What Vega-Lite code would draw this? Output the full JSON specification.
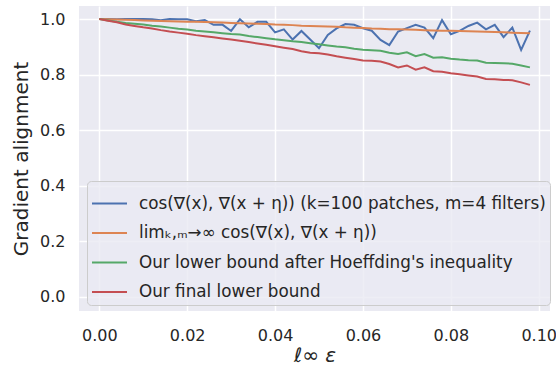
{
"$schema": "https://vega.github.io/schema/vega-lite/v6.json",
"width": 471, "height": 305,
"autosize": {"type": "none"},
"padding": {"left": 79, "top": 6, "right": 6, "bottom": 54},
"background": "white",
"config": {"view": {"fill": "#eaeaf2", "stroke": null}, "font": "DejaVu Sans"},
"data": {"values": [
{"eps":0.000,"s":"A","v":1.000},{"eps":0.002,"s":"A","v":1.000},{"eps":0.004,"s":"A","v":0.999},{"eps":0.006,"s":"A","v":1.000},{"eps":0.008,"s":"A","v":1.000},
{"eps":0.010,"s":"A","v":1.000},{"eps":0.012,"s":"A","v":0.999},{"eps":0.014,"s":"A","v":0.996},{"eps":0.016,"s":"A","v":1.000},{"eps":0.018,"s":"A","v":0.999},
{"eps":0.020,"s":"A","v":0.999},{"eps":0.022,"s":"A","v":0.992},{"eps":0.024,"s":"A","v":0.996},{"eps":0.026,"s":"A","v":0.979},{"eps":0.028,"s":"A","v":0.980},
{"eps":0.030,"s":"A","v":0.957},{"eps":0.032,"s":"A","v":0.999},{"eps":0.034,"s":"A","v":0.970},{"eps":0.036,"s":"A","v":0.990},{"eps":0.038,"s":"A","v":0.990},
{"eps":0.040,"s":"A","v":0.952},{"eps":0.042,"s":"A","v":0.963},{"eps":0.044,"s":"A","v":0.926},{"eps":0.046,"s":"A","v":0.957},{"eps":0.048,"s":"A","v":0.926},
{"eps":0.050,"s":"A","v":0.895},{"eps":0.052,"s":"A","v":0.943},{"eps":0.054,"s":"A","v":0.966},{"eps":0.056,"s":"A","v":0.982},{"eps":0.058,"s":"A","v":0.979},
{"eps":0.060,"s":"A","v":0.967},{"eps":0.062,"s":"A","v":0.958},{"eps":0.064,"s":"A","v":0.925},{"eps":0.066,"s":"A","v":0.906},{"eps":0.068,"s":"A","v":0.955},
{"eps":0.070,"s":"A","v":0.967},{"eps":0.072,"s":"A","v":0.979},{"eps":0.074,"s":"A","v":0.969},{"eps":0.076,"s":"A","v":0.931},{"eps":0.078,"s":"A","v":0.996},
{"eps":0.080,"s":"A","v":0.945},{"eps":0.082,"s":"A","v":0.957},{"eps":0.084,"s":"A","v":0.975},{"eps":0.086,"s":"A","v":0.987},{"eps":0.088,"s":"A","v":0.963},
{"eps":0.090,"s":"A","v":0.979},{"eps":0.092,"s":"A","v":0.935},{"eps":0.094,"s":"A","v":0.969},{"eps":0.096,"s":"A","v":0.889},{"eps":0.098,"s":"A","v":0.958},
{"eps":0.000,"s":"B","v":1.000},{"eps":0.002,"s":"B","v":0.999},{"eps":0.004,"s":"B","v":0.998},{"eps":0.006,"s":"B","v":0.997},{"eps":0.008,"s":"B","v":0.996},
{"eps":0.010,"s":"B","v":0.995},{"eps":0.012,"s":"B","v":0.994},{"eps":0.014,"s":"B","v":0.993},{"eps":0.016,"s":"B","v":0.992},{"eps":0.018,"s":"B","v":0.991},
{"eps":0.020,"s":"B","v":0.990},{"eps":0.022,"s":"B","v":0.990},{"eps":0.024,"s":"B","v":0.989},{"eps":0.026,"s":"B","v":0.988},{"eps":0.028,"s":"B","v":0.987},
{"eps":0.030,"s":"B","v":0.986},{"eps":0.032,"s":"B","v":0.985},{"eps":0.034,"s":"B","v":0.984},{"eps":0.036,"s":"B","v":0.983},{"eps":0.038,"s":"B","v":0.982},
{"eps":0.040,"s":"B","v":0.980},{"eps":0.042,"s":"B","v":0.979},{"eps":0.044,"s":"B","v":0.978},{"eps":0.046,"s":"B","v":0.976},{"eps":0.048,"s":"B","v":0.975},
{"eps":0.050,"s":"B","v":0.974},{"eps":0.052,"s":"B","v":0.973},{"eps":0.054,"s":"B","v":0.972},{"eps":0.056,"s":"B","v":0.970},{"eps":0.058,"s":"B","v":0.969},
{"eps":0.060,"s":"B","v":0.968},{"eps":0.062,"s":"B","v":0.966},{"eps":0.064,"s":"B","v":0.965},{"eps":0.066,"s":"B","v":0.963},{"eps":0.068,"s":"B","v":0.963},
{"eps":0.070,"s":"B","v":0.962},{"eps":0.072,"s":"B","v":0.961},{"eps":0.074,"s":"B","v":0.960},{"eps":0.076,"s":"B","v":0.959},{"eps":0.078,"s":"B","v":0.958},
{"eps":0.080,"s":"B","v":0.958},{"eps":0.082,"s":"B","v":0.957},{"eps":0.084,"s":"B","v":0.956},{"eps":0.086,"s":"B","v":0.955},{"eps":0.088,"s":"B","v":0.954},
{"eps":0.090,"s":"B","v":0.953},{"eps":0.092,"s":"B","v":0.952},{"eps":0.094,"s":"B","v":0.951},{"eps":0.096,"s":"B","v":0.950},{"eps":0.098,"s":"B","v":0.949},
{"eps":0.000,"s":"C","v":1.000},{"eps":0.002,"s":"C","v":0.995},{"eps":0.004,"s":"C","v":0.990},{"eps":0.006,"s":"C","v":0.986},{"eps":0.008,"s":"C","v":0.983},
{"eps":0.010,"s":"C","v":0.980},{"eps":0.012,"s":"C","v":0.976},{"eps":0.014,"s":"C","v":0.973},{"eps":0.016,"s":"C","v":0.969},{"eps":0.018,"s":"C","v":0.965},
{"eps":0.020,"s":"C","v":0.962},{"eps":0.022,"s":"C","v":0.958},{"eps":0.024,"s":"C","v":0.955},{"eps":0.026,"s":"C","v":0.952},{"eps":0.028,"s":"C","v":0.949},
{"eps":0.030,"s":"C","v":0.946},{"eps":0.032,"s":"C","v":0.944},{"eps":0.034,"s":"C","v":0.939},{"eps":0.036,"s":"C","v":0.935},{"eps":0.038,"s":"C","v":0.931},
{"eps":0.040,"s":"C","v":0.927},{"eps":0.042,"s":"C","v":0.924},{"eps":0.044,"s":"C","v":0.920},{"eps":0.046,"s":"C","v":0.917},{"eps":0.048,"s":"C","v":0.913},
{"eps":0.050,"s":"C","v":0.909},{"eps":0.052,"s":"C","v":0.905},{"eps":0.054,"s":"C","v":0.901},{"eps":0.056,"s":"C","v":0.898},{"eps":0.058,"s":"C","v":0.893},
{"eps":0.060,"s":"C","v":0.889},{"eps":0.062,"s":"C","v":0.888},{"eps":0.064,"s":"C","v":0.886},{"eps":0.066,"s":"C","v":0.879},{"eps":0.068,"s":"C","v":0.874},
{"eps":0.070,"s":"C","v":0.880},{"eps":0.072,"s":"C","v":0.866},{"eps":0.074,"s":"C","v":0.874},{"eps":0.076,"s":"C","v":0.861},{"eps":0.078,"s":"C","v":0.862},
{"eps":0.080,"s":"C","v":0.857},{"eps":0.082,"s":"C","v":0.854},{"eps":0.084,"s":"C","v":0.852},{"eps":0.086,"s":"C","v":0.851},{"eps":0.088,"s":"C","v":0.843},
{"eps":0.090,"s":"C","v":0.842},{"eps":0.092,"s":"C","v":0.841},{"eps":0.094,"s":"C","v":0.839},{"eps":0.096,"s":"C","v":0.833},{"eps":0.098,"s":"C","v":0.826},
{"eps":0.000,"s":"D","v":1.000},{"eps":0.002,"s":"D","v":0.994},{"eps":0.004,"s":"D","v":0.988},{"eps":0.006,"s":"D","v":0.980},{"eps":0.008,"s":"D","v":0.975},
{"eps":0.010,"s":"D","v":0.970},{"eps":0.012,"s":"D","v":0.966},{"eps":0.014,"s":"D","v":0.960},{"eps":0.016,"s":"D","v":0.955},{"eps":0.018,"s":"D","v":0.951},
{"eps":0.020,"s":"D","v":0.947},{"eps":0.022,"s":"D","v":0.942},{"eps":0.024,"s":"D","v":0.938},{"eps":0.026,"s":"D","v":0.934},{"eps":0.028,"s":"D","v":0.930},
{"eps":0.030,"s":"D","v":0.926},{"eps":0.032,"s":"D","v":0.922},{"eps":0.034,"s":"D","v":0.917},{"eps":0.036,"s":"D","v":0.912},{"eps":0.038,"s":"D","v":0.907},
{"eps":0.040,"s":"D","v":0.902},{"eps":0.042,"s":"D","v":0.897},{"eps":0.044,"s":"D","v":0.892},{"eps":0.046,"s":"D","v":0.884},{"eps":0.048,"s":"D","v":0.879},
{"eps":0.050,"s":"D","v":0.877},{"eps":0.052,"s":"D","v":0.872},{"eps":0.054,"s":"D","v":0.866},{"eps":0.056,"s":"D","v":0.861},{"eps":0.058,"s":"D","v":0.856},
{"eps":0.060,"s":"D","v":0.851},{"eps":0.062,"s":"D","v":0.850},{"eps":0.064,"s":"D","v":0.847},{"eps":0.066,"s":"D","v":0.838},{"eps":0.068,"s":"D","v":0.826},
{"eps":0.070,"s":"D","v":0.833},{"eps":0.072,"s":"D","v":0.818},{"eps":0.074,"s":"D","v":0.826},{"eps":0.076,"s":"D","v":0.812},{"eps":0.078,"s":"D","v":0.810},
{"eps":0.080,"s":"D","v":0.805},{"eps":0.082,"s":"D","v":0.801},{"eps":0.084,"s":"D","v":0.797},{"eps":0.086,"s":"D","v":0.793},{"eps":0.088,"s":"D","v":0.784},
{"eps":0.090,"s":"D","v":0.783},{"eps":0.092,"s":"D","v":0.781},{"eps":0.094,"s":"D","v":0.780},{"eps":0.096,"s":"D","v":0.772},{"eps":0.098,"s":"D","v":0.763}
]},
"mark": {"type": "line", "strokeWidth": 2},
"encoding": {
  "x": {"field": "eps", "type": "quantitative",
    "scale": {"domain": [-0.00462, 0.10257], "nice": false, "zero": false},
    "axis": {"values": [0, 0.02, 0.04, 0.06, 0.08, 0.1], "format": ".2f", "title": "ℓ∞ ε",
      "grid": true, "gridColor": "white", "gridWidth": 1.5, "domain": false, "ticks": false,
      "labelPadding": 16, "labelFontSize": 16, "labelColor": "#262626",
      "titleFontSize": 20, "titleFontWeight": "normal", "titleColor": "#262626", "titleFontStyle": "italic", "titlePadding": 2}},
  "y": {"field": "v", "type": "quantitative",
    "scale": {"domain": [-0.0504, 1.0468], "nice": false, "zero": false},
    "axis": {"values": [0, 0.2, 0.4, 0.6, 0.8, 1.0], "format": ".1f", "title": "Gradient alignment",
      "grid": true, "gridColor": "white", "gridWidth": 1.5, "domain": false, "ticks": false,
      "labelPadding": 14, "labelFontSize": 16, "labelColor": "#262626",
      "titleFontSize": 20, "titleFontWeight": "normal", "titleColor": "#262626", "titlePadding": 8}},
  "color": {"field": "s", "type": "nominal",
    "scale": {"domain": ["A", "B", "C", "D"], "range": ["#4c72b0", "#dd8452", "#55a868", "#c44e52"]},
    "legend": {"title": null, "orient": "none", "legendX": 8, "legendY": 175,
      "labelExpr": "datum.value == 'A' ? 'cos(∇(x), ∇(x + η)) (k=100 patches, m=4 filters)' : datum.value == 'B' ? 'limₖ,ₘ→∞ cos(∇(x), ∇(x + η))' : datum.value == 'C' ? 'Our lower bound after Hoeffding\\'s inequality' : 'Our final lower bound'",
      "labelFontSize": 16.8, "labelColor": "#262626", "labelLimit": 600, "labelOffset": 11,
      "symbolType": "stroke", "symbolSize": 1225, "symbolStrokeWidth": 2,
      "rowPadding": 1.5, "padding": 4, "fillColor": "rgba(234,234,242,0.8)", "strokeColor": "#cccccc", "cornerRadius": 4}}
}
}
